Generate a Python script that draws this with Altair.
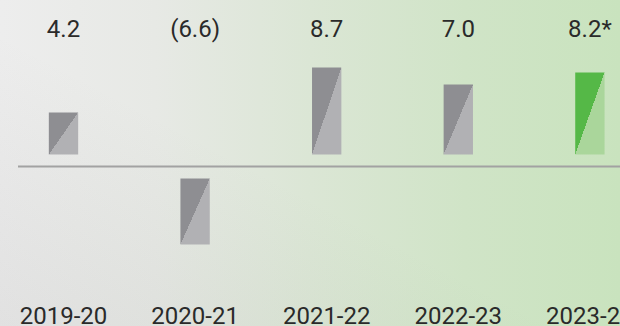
import altair as alt
import pandas as pd

# GDP growth by fiscal year (per cent); last year is a projection
years = ["2019-20", "2020-21", "2021-22", "2022-23", "2023-24"]
growth = [4.2, -6.6, 8.7, 7.0, 8.2]
value_labels = ["4.2", "(6.6)", "8.7", "7.0", "8.2*"]
projected = [False, False, False, False, True]

W, H = 620, 326

df = pd.DataFrame({
    "year": years,
    "growth": growth,
    "label": value_labels,
    "projected": projected,
})


def split_fill(dark, light):
    # diagonal two-tone fill: upper-left triangle dark, lower-right light
    return {
        "gradient": "linear",
        "x1": 0, "y1": 0, "x2": 1, "y2": 1,
        "stops": [
            {"offset": 0, "color": dark},
            {"offset": 0.5, "color": dark},
            {"offset": 0.5, "color": light},
            {"offset": 1, "color": light},
        ],
    }


xscale = alt.Scale(domain=years, range=[-2.3, 655.7],
                   paddingInner=0.777, paddingOuter=0.3885)
yscale = alt.Scale(domain=[-15.95, 16.65], nice=False, zero=False)

x_enc = alt.X("year:N", scale=xscale, axis=None, sort=years)

panel = alt.Chart(pd.DataFrame({"k": [0]}))

# soft grey-to-green backdrop
backdrop = panel.mark_rect(
    color={
        "gradient": "linear",
        "x1": 0, "y1": 0, "x2": 1, "y2": 0,
        "stops": [
            {"offset": 0, "color": "#ededed"},
            {"offset": 0.25, "color": "#e7e9e5"},
            {"offset": 0.5, "color": "#dbe6d5"},
            {"offset": 0.75, "color": "#d0e4c7"},
            {"offset": 1, "color": "#c9e3be"},
        ],
    }
).encode(x=alt.value(0), x2=alt.value(W), y=alt.value(0), y2=alt.value(H))

# slight grey shading toward the lower-left corner
shade = panel.mark_rect(
    color={
        "gradient": "linear",
        "x1": 0, "y1": 1, "x2": 1, "y2": 0,
        "stops": [
            {"offset": 0, "color": "rgba(120,120,120,0.10)"},
            {"offset": 0.45, "color": "rgba(120,120,120,0.0)"},
            {"offset": 1, "color": "rgba(120,120,120,0.0)"},
        ],
    }
).encode(x=alt.value(0), x2=alt.value(W), y=alt.value(0), y2=alt.value(H))

# bars float slightly off the zero line
bars_base = alt.Chart(df).transform_calculate(
    base="datum.growth >= 0 ? 1.2 : -1.2"
).transform_calculate(
    top="datum.base + datum.growth"
)

gray_bars = bars_base.transform_filter("!datum.projected").mark_bar(
    color=split_fill("#8e8e92", "#b1b1b4")
).encode(
    x=x_enc,
    y=alt.Y("base:Q", scale=yscale, axis=None),
    y2="top:Q",
)

green_bars = bars_base.transform_filter("datum.projected").mark_bar(
    color=split_fill("#55b847", "#aad69b")
).encode(
    x=x_enc,
    y=alt.Y("base:Q", scale=yscale, axis=None),
    y2="top:Q",
)

zero_line = alt.Chart(pd.DataFrame({"z": [0]})).mark_rule(
    color="#a2a2a2", strokeWidth=2
).encode(
    y=alt.Y("z:Q", scale=yscale, axis=None),
    x=alt.value(18),
    x2=alt.value(W),
)

value_text = alt.Chart(df).mark_text(
    font="Roboto", fontSize=24, color="#2a2a2a", baseline="alphabetic"
).encode(x=x_enc, y=alt.value(37), text="label:N")

year_text = alt.Chart(df).mark_text(
    font="Roboto", fontSize=24, color="#2a2a2a", baseline="alphabetic"
).encode(x=x_enc, y=alt.value(324), text="year:N")

chart = alt.layer(
    backdrop, shade, zero_line, gray_bars, green_bars, value_text, year_text
).properties(
    width=W, height=H, padding=0,
    autosize=alt.AutoSizeParams(type="none"),
).configure_view(stroke=None)

chart.save("out.html", embed_options={"renderer": "svg", "actions": False})
